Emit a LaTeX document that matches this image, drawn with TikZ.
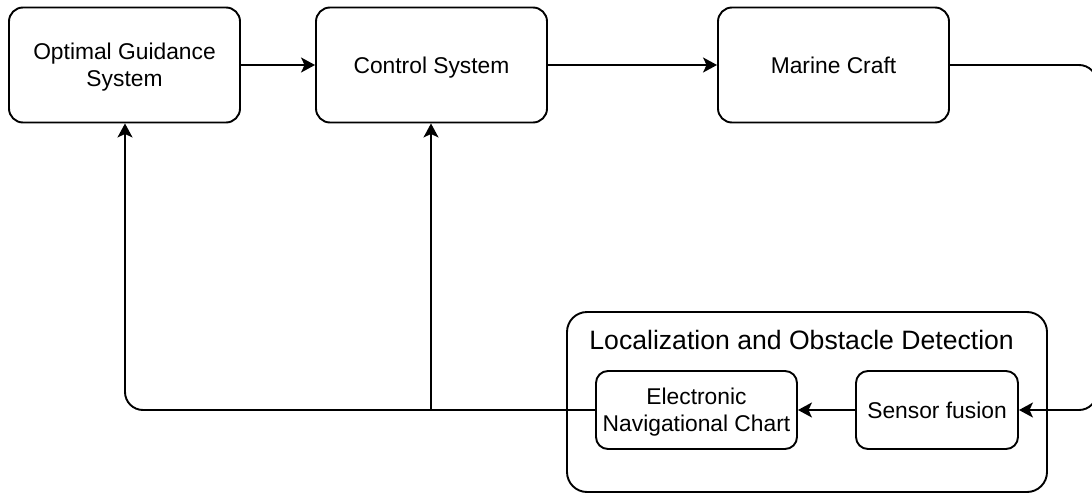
\documentclass[tikz,border=0pt]{standalone}
\usepackage{fontspec}
\setmainfont{Liberation Sans}
\usetikzlibrary{arrows.meta}

\begin{document}
\begin{tikzpicture}[x=1pt,y=-1pt,
  line width=1.9pt,
  boxfont/.style={font=\fontsize{22.8}{26.7}\selectfont},
  oneline/.style={text height=16.3pt, text depth=0pt},
  twoline/.style={text height=43pt, text depth=0pt},
  blockbox/.style={draw, rounded corners=14pt, inner sep=0pt, align=center,
    minimum width=231pt, minimum height=115pt, boxfont},
  smallbox/.style={draw, rounded corners=12pt, inner sep=0pt, align=center,
    minimum height=78pt, boxfont},
  groupbox/.style={draw, rounded corners=20pt, inner sep=0pt,
    minimum width=480pt, minimum height=180pt},
  tip/.style={-{Stealth[length=14pt,width=15pt,inset=3.5pt]}},
  bent/.style={rounded corners=18pt}]

\useasboundingbox (0,0) rectangle (1092,495);

% top row of blocks
\node[blockbox, twoline] (ogs) at (124.5,65) {Optimal Guidance\\System};
\node[blockbox, oneline] (cs)  at (431.5,65) {Control System};
\node[blockbox, oneline] (mc)  at (833.5,65) {Marine Craft};

% localization group with its two sub-blocks
\node[groupbox] (loc) at (807,402) {};
\node[anchor=west, inner sep=0pt, font=\fontsize{26.6}{30}\selectfont]
  (loctitle) at (588.5,340) {Localization and Obstacle Detection};
\node[smallbox, twoline, minimum width=201pt] (enc) at (696.5,410) {Electronic\\Navigational Chart};
\node[smallbox, oneline, minimum width=162pt] (sf)  at (937,410) {Sensor fusion};

% routing points
\coordinate (tr) at (1097,65);
\coordinate (br) at (1097,410);
\coordinate (bl) at (125,410);
\coordinate (jn) at (431,410);

% forward path
\draw[tip] (ogs.east) -- (cs.west);
\draw[tip] (cs.east) -- (mc.west);

% feedback from the craft into the sensors
\draw[tip, bent] (mc.east) -- (tr) -- (br) -- (sf.east);
\draw[tip] (sf.west) -- (enc.east);

% chart output back to guidance and control
\draw[tip, bent] (enc.west) -- (bl) -- (bl |- ogs.south);
\draw[tip] (jn) -- (jn |- cs.south);

\end{tikzpicture}
\end{document}
